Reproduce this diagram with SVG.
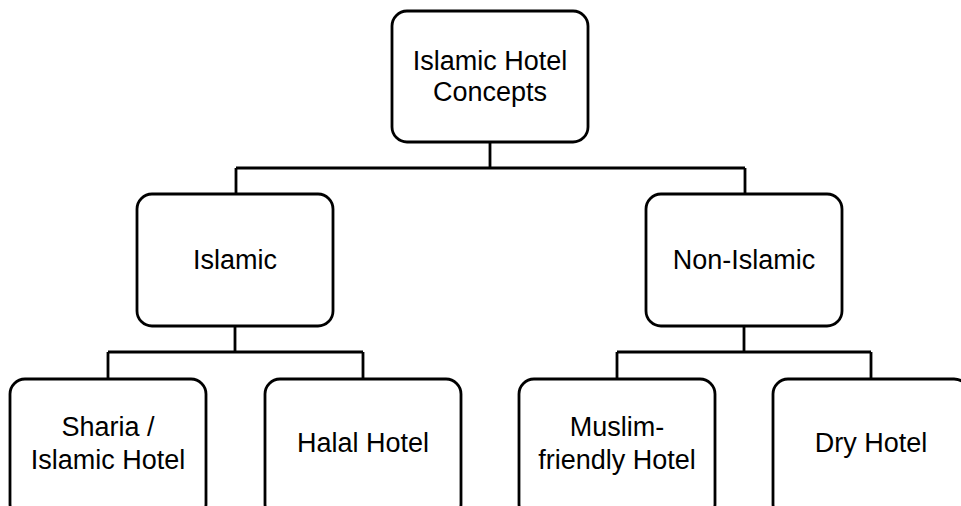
<svg xmlns="http://www.w3.org/2000/svg" width="961" height="506" viewBox="0 0 961 506">
<style>
.box{fill:#fff;stroke:#000;stroke-width:2.8}
.t{font-family:"Liberation Sans",Arial,sans-serif;font-size:27px;fill:#000;text-anchor:middle}
.c{fill:none;stroke:#000;stroke-width:2.8}
</style>
<rect width="961" height="506" fill="#fff"/>
<g id="connectors">
<path class="c" d="M490,142 V168 M236,168 H745 M236,168 V194 M745,168 V194"/>
<path class="c" d="M235,326 V352 M108,352 H363 M108,352 V379 M363,352 V379"/>
<path class="c" d="M744,326 V352 M617,352 H871 M617,352 V379 M871,352 V379"/>
</g>
<g id="root">
<rect class="box" x="392" y="11" width="196" height="131" rx="15"/>
<text class="t" x="490" y="69.5">Islamic Hotel</text>
<text class="t" x="490" y="100.5">Concepts</text>
</g>
<g id="islamic">
<rect class="box" x="137" y="194" width="196" height="132" rx="15"/>
<text class="t" x="235" y="269">Islamic</text>
</g>
<g id="non-islamic">
<rect class="box" x="646" y="194" width="196" height="132" rx="15"/>
<text class="t" x="744" y="269">Non-Islamic</text>
</g>
<g id="sharia">
<rect class="box" x="10" y="379" width="196" height="140" rx="15"/>
<text class="t" x="108" y="436">Sharia /</text>
<text class="t" x="108" y="468.5">Islamic Hotel</text>
</g>
<g id="halal">
<rect class="box" x="265" y="379" width="196" height="140" rx="15"/>
<text class="t" x="363" y="451.5">Halal Hotel</text>
</g>
<g id="muslim-friendly">
<rect class="box" x="519" y="379" width="196" height="140" rx="15"/>
<text class="t" x="617" y="436">Muslim-</text>
<text class="t" x="617" y="468.5">friendly Hotel</text>
</g>
<g id="dry">
<rect class="box" x="773" y="379" width="196" height="140" rx="15"/>
<text class="t" x="871" y="451.5">Dry Hotel</text>
</g>
</svg>
